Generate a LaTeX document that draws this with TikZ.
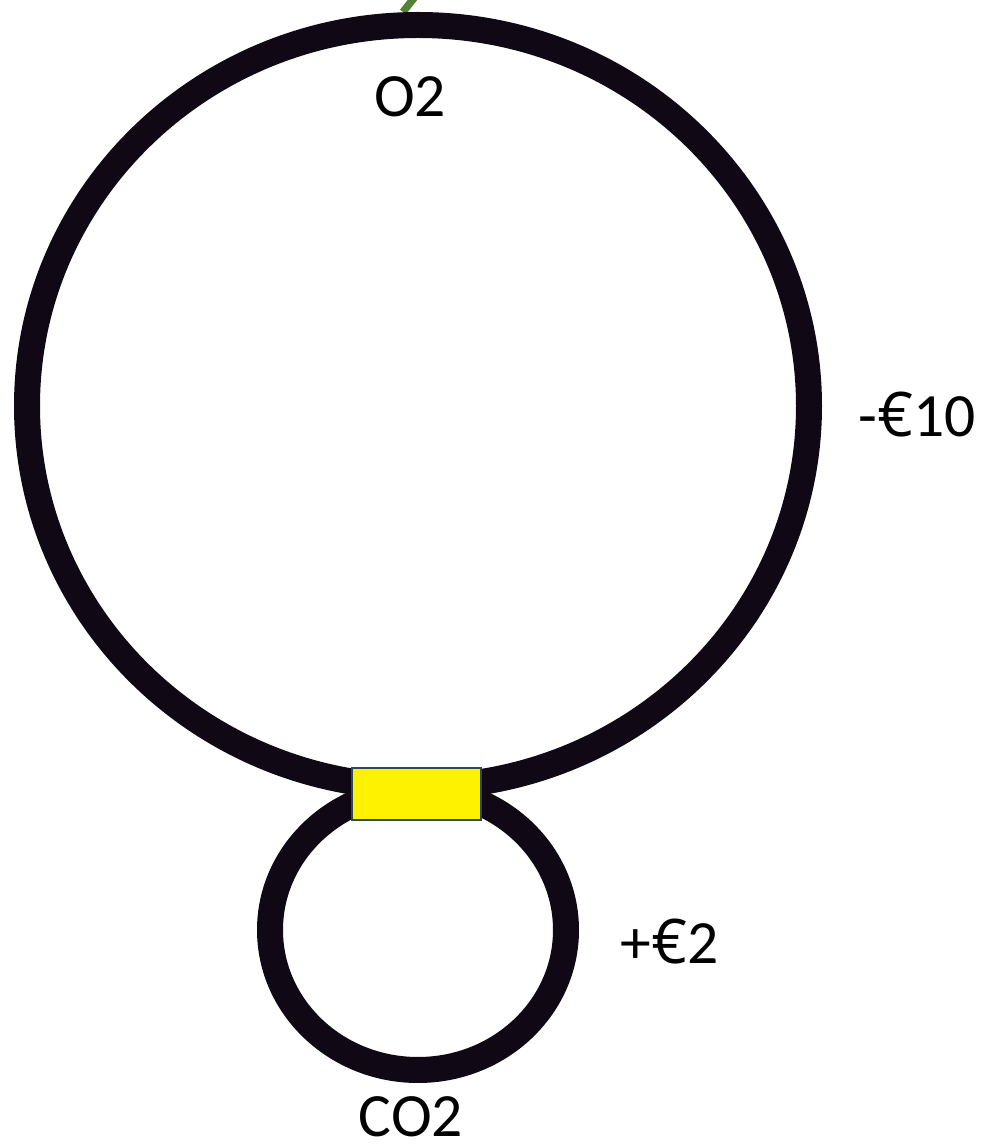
\documentclass[tikz,border=0pt]{standalone}
\usepackage{fontspec}
\setmainfont{Carlito}
\newfontfamily\eurofont{Open Sans}
\usepackage{tikz}
\usetikzlibrary{positioning, shapes.geometric, backgrounds}
\definecolor{loopink}{HTML}{100915}
\definecolor{feedgreen}{HTML}{548235}
\definecolor{boxedge}{HTML}{2F4858}
\newcommand{\eur}{{\eurofont €}}

\begin{document}
\begin{tikzpicture}[
            loop/.style={ellipse, draw=loopink, line width=0.52cm, inner sep=0pt},
            valve/.style={rectangle, draw=boxedge, line width=1.2pt, fill=yellow, minimum width=2.58cm, minimum height=1.04cm, inner sep=0pt},
            label/.style={font=\fontsize{35}{40}\selectfont, anchor=base, inner sep=0pt},
            feed/.style={draw=feedgreen, line width=0.15cm}
        ]
        \useasboundingbox (0,0) rectangle (19.62,22.88);
        % Loops
        \node[loop, minimum width=15.64cm, minimum height=15.24cm] (o2) at (8.36, 14.76) {};
        \node[loop, minimum width=5.92cm, minimum height=5.6cm] (co2) at (8.36, 4.28) {};
        % Junction between the loops
        \node[valve] (junction) at (8.33, 7.0) {};
        % Feed line (top), behind the loop
        \coordinate (top) at (8.5, 23.2);
        \begin{scope}[on background layer]
        \draw[feed] (top) -- ([xshift=-0.3cm]o2.north);
        \end{scope}
        % Labels
        \node[label] (o2name) at (8.2, 20.54) {O2};
        \node[label] (o2cost) at (18.34, 14.14) {-\eur10};
        \node[label] (co2cost) at (13.4, 3.6) {+\eur2};
        \node[label] (co2name) at (8.22, 0.14) {CO2};
        \end{tikzpicture}
\end{document}
